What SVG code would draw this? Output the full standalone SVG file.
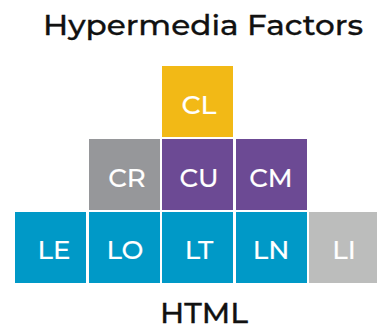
<svg xmlns="http://www.w3.org/2000/svg" width="377" height="328" viewBox="0 0 377 328">
<style>
.t{font-family:"Montserrat","Open Sans","Liberation Sans",sans-serif;fill:#111;stroke:#111;stroke-width:0.3;font-weight:500;font-size:28px;text-anchor:middle}
.l{font-family:"Montserrat","Open Sans","Liberation Sans",sans-serif;fill:#fff;stroke:#fff;stroke-width:0.15;font-size:26px;font-weight:500;text-anchor:middle}
.y{fill:#F2B916}.g{fill:#96979A}.p{fill:#6C4A94}.b{fill:#0099C7}.lg{fill:#BCBDBC}
</style>
<rect width="377" height="328" fill="#fff"/>
<text class="t" x="203" y="35" textLength="320" lengthAdjust="spacingAndGlyphs">Hypermedia Factors</text>
<g id="CL"><rect class="y" x="162" y="66" width="71" height="71"/><text class="l" x="199" y="114" textLength="35" lengthAdjust="spacingAndGlyphs">CL</text></g>
<g id="CR"><rect class="g" x="89" y="139" width="71" height="71"/><text class="l" x="127" y="187">CR</text></g>
<g id="CU"><rect class="p" x="162" y="139" width="71" height="71"/><text class="l" x="199" y="187">CU</text></g>
<g id="CM"><rect class="p" x="236" y="139" width="71" height="71"/><text class="l" x="271" y="187">CM</text></g>
<g id="LE"><rect class="b" x="15" y="212" width="71" height="71"/><text class="l" x="54" y="259">LE</text></g>
<g id="LO"><rect class="b" x="89" y="212" width="71" height="71"/><text class="l" x="125" y="259">LO</text></g>
<g id="LT"><rect class="b" x="162" y="212" width="71" height="71"/><text class="l" x="199" y="259">LT</text></g>
<g id="LN"><rect class="b" x="236" y="212" width="71" height="71"/><text class="l" x="271" y="259">LN</text></g>
<g id="LI"><rect class="lg" x="309" y="212" width="68" height="71"/><text class="l" x="344" y="259">LI</text></g>
<g id="connectors"></g>
<text class="t" x="204" y="323" textLength="88" lengthAdjust="spacingAndGlyphs">HTML</text>
</svg>
